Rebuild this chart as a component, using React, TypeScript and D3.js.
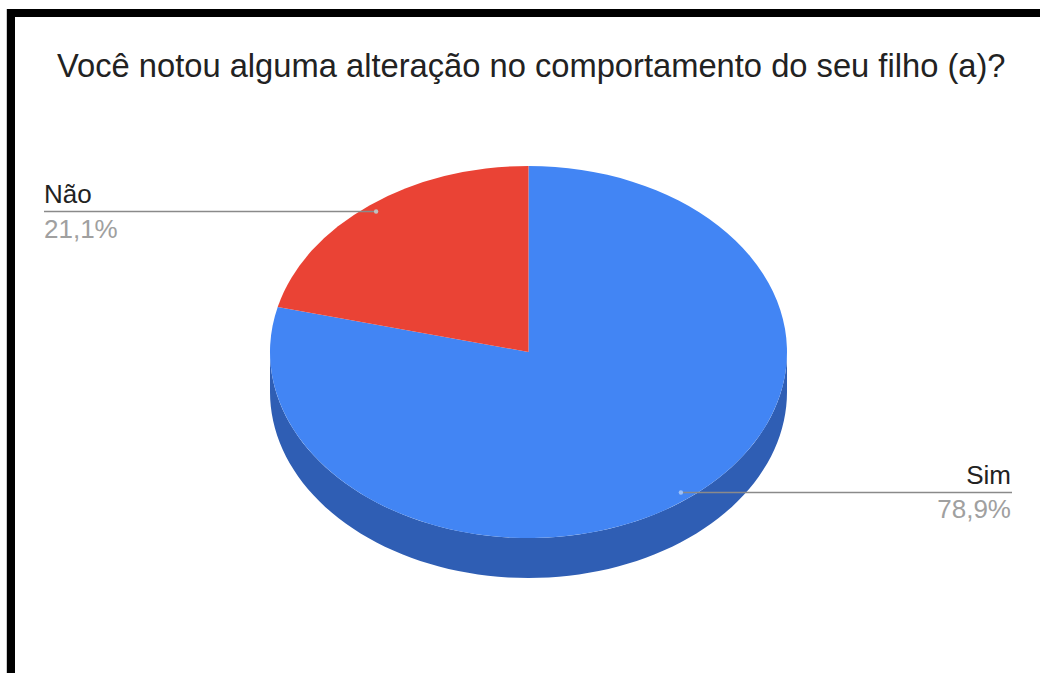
import React from "react";
import * as d3 from "d3";

const title = "Você notou alguma alteração no comportamento do seu filho (a)?";
const categories = ["Sim", "Não"];
const values = [78.9, 21.1];
const percentLabels = ["78,9%", "21,1%"];
const topColors = ["#4285F4", "#EA4335"];
const sideColors = ["#2F5EB4", "#A8302A"];

const W = 1040;
const H = 673;
const cx = 528.5;
const cy = 352;
const rx = 258.5;
const ry = 186;
const depth = 40;
const anchorFrac = 0.958;

function ellPt(a: number, f = 1, dy = 0): [number, number] {
  return [cx + rx * f * Math.sin(a), cy - ry * f * Math.cos(a) + dy];
}

export default function App() {
  const pie = d3.pie<number>().sort(null).startAngle(0).endAngle(2 * Math.PI);
  const arcs = pie(values);
  const arcGen = d3.arc<d3.PieArcDatum<number>>().innerRadius(0).outerRadius(rx);

  const sides = arcs.map((d, i) => {
    const a0 = Math.max(d.startAngle, Math.PI / 2);
    const a1 = Math.min(d.endAngle, (3 * Math.PI) / 2);
    if (a1 <= a0) return null;
    const n = 80;
    const angles = d3.range(n + 1).map((k) => a0 + ((a1 - a0) * k) / n);
    const top = angles.map((a) => ellPt(a));
    const bottom = angles.slice().reverse().map((a) => ellPt(a, 1, depth));
    const p = d3.line()([...top, ...bottom]) + "Z";
    return <path key={"s" + i} d={p} fill={sideColors[i]} />;
  });

  const anchors = arcs.map((d) => ellPt((d.startAngle + d.endAngle) / 2, anchorFrac));
  const simA = anchors[0];
  const naoA = anchors[1];

  const font = "'Liberation Sans', Arial, sans-serif";

  return (
    <svg
      width={W}
      height={H}
      style={{ position: "absolute", left: 0, top: 0, background: "#fff" }}
    >
      <rect x={0} y={0} width={W} height={H} fill="#fff" />
      <line x1={6.5} y1={9} x2={6.5} y2={H} stroke="#cccccc" strokeWidth={1} />
      <rect x={7} y={9} width={W - 7} height={8} fill="#000" />
      <rect x={7} y={9} width={8} height={H - 9} fill="#000" />

      <text x={57} y={77} fontFamily={font} fontSize={32.7} fill="#222">
        {title}
      </text>

      {sides}
      <g transform={`translate(${cx},${cy}) scale(1,${ry / rx})`}>
        {arcs.map((d, i) => (
          <path key={"t" + i} d={arcGen(d) || ""} fill={topColors[i]} />
        ))}
      </g>

      <line x1={44} y1={naoA[1]} x2={naoA[0]} y2={naoA[1]} stroke="#8a8a8a" strokeWidth={1.5} />
      <circle cx={naoA[0]} cy={naoA[1]} r={2.2} fill="#c0c0c0" />
      <text x={44} y={203} fontFamily={font} fontSize={26} fill="#222">
        {categories[1]}
      </text>
      <text x={44} y={238} fontFamily={font} fontSize={26} fill="#a0a0a0">
        {percentLabels[1]}
      </text>

      <line x1={simA[0]} y1={simA[1]} x2={1012} y2={simA[1]} stroke="#8a8a8a" strokeWidth={1.5} />
      <circle cx={simA[0]} cy={simA[1]} r={2.2} fill="#9cc0f8" />
      <text x={1011} y={484} textAnchor="end" fontFamily={font} fontSize={26} fill="#222">
        {categories[0]}
      </text>
      <text x={1011} y={518} textAnchor="end" fontFamily={font} fontSize={26} fill="#a0a0a0">
        {percentLabels[0]}
      </text>
    </svg>
  );
}
